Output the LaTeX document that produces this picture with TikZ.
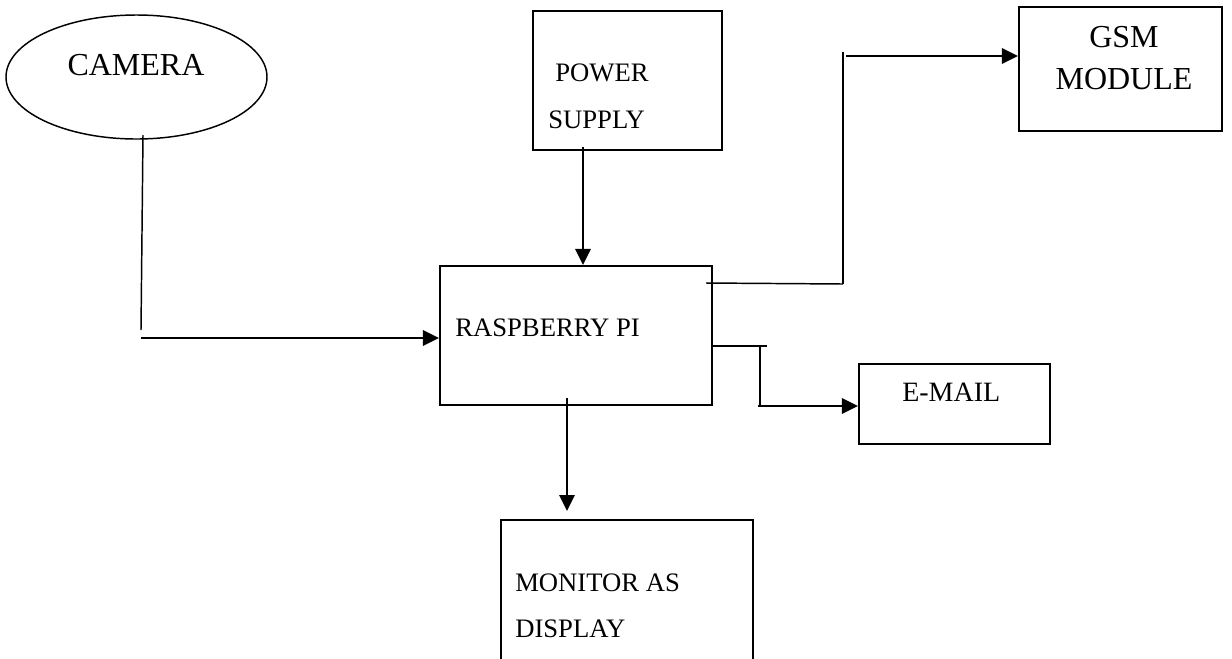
\documentclass[tikz,border=0pt]{standalone}
\usepackage{fontspec}
\setmainfont{Liberation Serif}
\usetikzlibrary{shapes.geometric,arrows.meta}
\begin{document}
\begin{tikzpicture}[x=0.75pt,y=-0.75pt,
  box/.style={draw,line width=1.6pt,rectangle,inner sep=0},
  txt/.style={inner sep=0,font=\fontsize{20pt}{24pt}\selectfont},
  bigtxt/.style={inner sep=0,font=\fontsize{24pt}{28pt}\selectfont},
  conn/.style={line width=1.6pt},
  thinconn/.style={line width=1.1pt},
  arr/.style={line width=1.6pt,-{Triangle[length=12pt,width=11.5pt]}}]
\useasboundingbox (0,0) rectangle (1232,658);
\clip (0,0) rectangle (1232,658);
% shapes
\node[ellipse,draw,line width=1.1pt,inner sep=0,minimum width=195.75pt,minimum height=93pt] (cam) at (136.5,77) {};
\node[box,minimum width=141.75pt,minimum height=104.25pt] (pwr) at (627.5,80.5) {};
\node[box,minimum width=204pt,minimum height=104.25pt] (rpi) at (576,335.5) {};
\node[box,minimum width=152.25pt,minimum height=93pt] (gsm) at (1120.5,69) {};
\node[box,minimum width=143.25pt,minimum height=60pt] (mail) at (954.5,404) {};
\node[box,minimum width=189pt,minimum height=150pt] (mon) at (627,620) {};
% texts
\node[bigtxt,anchor=base] (tcam) at (136,75) {CAMERA};
\node[txt,anchor=base west] (tpwr1) at (555,81) {POWER};
\node[txt,anchor=base west] (tpwr2) at (548,128) {SUPPLY};
\node[txt,anchor=base west] (trpi) at (455,336) {RASPBERRY PI};
\node[bigtxt,anchor=base] (tgsm1) at (1124,47) {GSM};
\node[bigtxt,anchor=base] (tgsm2) at (1124,89) {MODULE};
\node[txt,anchor=base west,font=\fontsize{21pt}{24pt}\selectfont] (tmail) at (902,401) {E-MAIL};
\node[txt,anchor=base west] (tmon1) at (515,591) {MONITOR AS};
\node[txt,anchor=base west] (tmon2) at (515,637) {DISPLAY};
% coordinates
\coordinate (c0) at (143,135);
\coordinate (c1) at (141,330);
\coordinate (c2) at (141,338);
\coordinate (p0) at (583,147);
\coordinate (g0) at (706,283);
\coordinate (g1) at (843,284);
\coordinate (g2) at (843,52);
\coordinate (g3) at (846,56);
\coordinate (e0) at (712,346);
\coordinate (e1) at (767,346);
\coordinate (e2) at (760,346);
\coordinate (e3) at (760,407);
\coordinate (e4) at (758,406);
\coordinate (m0) at (567,398);
\coordinate (m1) at (567,511);
% connectors
\draw[thinconn] (c0) -- (c1);
\draw[arr] (c2) -- (rpi.west |- c2);
\draw[arr] (p0) -- (rpi.north -| p0);
\draw[thinconn] (g0) -- (g1);
\draw[thinconn] (g1) -- (g2);
\draw[arr] (g3) -- (gsm.west |- g3);
\draw[thinconn] (e0) -- (e1);
\draw[conn] (e2) -- (e3);
\draw[arr] (e4) -- (mail.west |- e4);
\draw[arr] (m0) -- (m1);
\end{tikzpicture}
\end{document}
